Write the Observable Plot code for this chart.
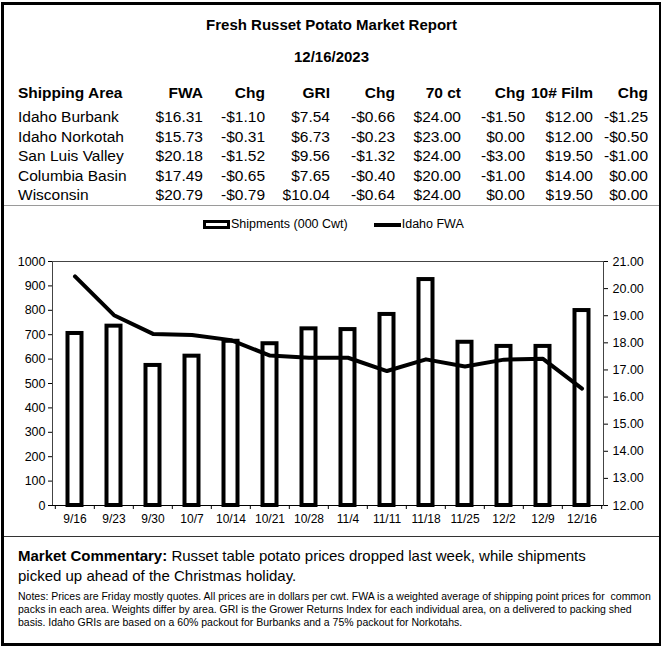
<!DOCTYPE html>
<html><head><meta charset="utf-8">
<script src="https://cdn.jsdelivr.net/npm/d3@7"></script>
<script src="https://cdn.jsdelivr.net/npm/@observablehq/plot@0.6"></script>
<style>
html,body{margin:0;padding:0;background:#fff;}
body{width:663px;height:648px;position:relative;overflow:hidden;font-family:"Liberation Sans",Arial,sans-serif;color:#000;}
.abs{position:absolute;white-space:nowrap;}
</style></head><body>
<div id="root"></div>
<script>
// ---- data ----
const title = "Fresh Russet Potato Market Report";
const reportDate = "12/16/2023";
const tableHeaders = ["Shipping Area","FWA","Chg","GRI","Chg","70 ct","Chg","10# Film","Chg"];
const areas = ["Idaho Burbank","Idaho Norkotah","San Luis Valley","Columbia Basin","Wisconsin"];
const fwa = ["$16.31","$15.73","$20.18","$17.49","$20.79"];
const fwaChg = ["-$1.10","-$0.31","-$1.52","-$0.65","-$0.79"];
const gri = ["$7.54","$6.73","$9.56","$7.65","$10.04"];
const griChg = ["-$0.66","-$0.23","-$1.32","-$0.40","-$0.64"];
const ct70 = ["$24.00","$23.00","$24.00","$20.00","$24.00"];
const ct70Chg = ["-$1.50","$0.00","-$3.00","-$1.00","$0.00"];
const film10 = ["$12.00","$12.00","$19.50","$14.00","$19.50"];
const film10Chg = ["-$1.25","-$0.50","-$1.00","$0.00","$0.00"];

const weeks = ["9/16","9/23","9/30","10/7","10/14","10/21","10/28","11/4","11/11","11/18","11/25","12/2","12/9","12/16"];
const shipments = [705,735,574,612,673,663,724,721,783,926,669,652,652,799];
const idahoFWA = [20.45,19.02,18.33,18.29,18.10,17.53,17.45,17.45,16.96,17.39,17.13,17.38,17.41,16.31];
const leftTicks = [0,100,200,300,400,500,600,700,800,900,1000];
const rightTicks = [12,13,14,15,16,17,18,19,20,21];
const seriesNames = ["Shipments (000 Cwt)","Idaho FWA"];

const commentaryLabel = "Market Commentary:";
const commentaryLines = [" Russet table potato prices dropped last week, while shipments","picked up ahead of the Christmas holiday."];
const notesLines = [
 "Notes: Prices are Friday mostly quotes. All prices are in dollars per cwt. FWA is a weighted average of shipping point prices for&nbsp; common",
 "packs in each area. Weights differ by area. GRI is the Grower Returns Index for each individual area, on a delivered to packing shed",
 "basis. Idaho GRIs are based on a 60% packout for Burbanks and a 75% packout for Norkotahs."
];

// ---- layout helpers ----
const root = document.getElementById("root");
function box(html, css){const d=document.createElement("div");d.className="abs";d.innerHTML=html;Object.assign(d.style,css);root.appendChild(d);return d;}

// outer frame
box("",{left:"1px",top:"2px",width:"655px",height:"638px",borderLeft:"3px solid #000",borderTop:"3px solid #000",borderRight:"2px solid #000",borderBottom:"3px solid #000"});
// separators
box("",{left:"4px",top:"205px",width:"655px",height:"1px",background:"#9a9a9a"});
box("",{left:"4px",top:"536px",width:"655px",height:"1px",background:"#333"});

// title
box(title,{left:"0",width:"663px",textAlign:"center",top:"15px",lineHeight:"20px",fontSize:"15px",fontWeight:"bold"});
box(reportDate,{left:"0",width:"663px",textAlign:"center",top:"47px",lineHeight:"20px",fontSize:"15px",fontWeight:"bold"});

// table
const colRight = [null,203,265,330,395,461,525,593,648];
const cols = [areas,fwa,fwaChg,gri,griChg,ct70,ct70Chg,film10,film10Chg];
const rowY = [117,136.5,156,175.5,195];
tableHeaders.forEach((h,j)=>{
  const css={top:(93-10)+"px",lineHeight:"20px",fontSize:"15.5px",fontWeight:"bold"};
  if(j===0){css.left="18px";} else {css.right=(663-colRight[j])+"px";css.textAlign="right";}
  box(h,css);
});
cols.forEach((col,j)=>{
  col.forEach((v,i)=>{
    const css={top:(rowY[i]-10)+"px",lineHeight:"20px",fontSize:"15.5px"};
    if(j===0){css.left="18px";} else {css.right=(663-colRight[j])+"px";css.textAlign="right";}
    box(v,css);
  });
});

// legend
box(`<span style="display:inline-block;width:21px;height:3px;border:3px solid #000;background:#fff;vertical-align:middle;margin-right:1px"></span>${seriesNames[0]}<span style="display:inline-block;width:27px;height:4px;background:#000;vertical-align:middle;margin-left:26px;margin-right:1px"></span>${seriesNames[1]}`,
  {left:"203px",top:"215px",lineHeight:"18px",fontSize:"12.5px"});

// commentary
box(`<b>${commentaryLabel}</b>${commentaryLines[0]}`,{left:"18px",top:"546px",lineHeight:"20px",fontSize:"15px"});
box(commentaryLines[1],{left:"18px",top:"566px",lineHeight:"20px",fontSize:"15px"});
notesLines.forEach((t,i)=>box(t,{left:"18px",top:(590+i*13)+"px",lineHeight:"13px",fontSize:"10.5px"}));

// ---- chart ----
const data = weeks.map((w,i)=>({week:w, ship:shipments[i], fwa:idahoFWA[i]}));
const toLeft = v => (v-12)/9*1000;
const fromLeft = y => y/1000*9+12;
const W=663, ML=52, MR=60, MT=21, MB=35, H=300;
const step = (W-ML-MR)/weeks.length;

const chart = Plot.plot({
  width: W, height: H,
  marginLeft: ML, marginRight: MR, marginTop: MT, marginBottom: MB,
  style:{fontFamily:"'Liberation Sans', Arial, sans-serif", fontSize:"12px", color:"#000", background:"transparent"},
  x:{type:"band", domain: weeks, padding:0, axis:null, label:null},
  y:{domain:[0,1000], axis:null, label:null},
  marks:[
    Plot.frame({stroke:"#444", strokeWidth:1}),
    Plot.barY(data,{x:"week", y:"ship", fill:"#fff", stroke:"#000", strokeWidth:4, insetLeft:12.5, insetRight:12.5}),
    Plot.lineY(data,{x:"week", y:d=>toLeft(d.fwa), stroke:"#000", strokeWidth:4}),
    Plot.ruleY([0],{stroke:"#000", strokeWidth:1}),
    Plot.ruleX(weeks,{x:d=>d, dx:-step/2, y1:d=>0, y2:d=>0, insetBottom:-4, stroke:"#000"}),
    Plot.ruleX([weeks[weeks.length-1]],{x:d=>d, dx:step/2, y1:d=>0, y2:d=>0, insetBottom:-4, stroke:"#000"}),
    Plot.axisX({ticks: weeks, tickSize:0, tickPadding:9, fontSize:12, label:null}),
    Plot.axisY({anchor:"left", ticks:leftTicks, tickSize:4, tickPadding:3, tickFormat:d=>String(d), fontSize:12.5, label:null}),
    Plot.axisY({anchor:"right", ticks:rightTicks.map(toLeft), tickSize:4, tickPadding:5, tickFormat:d=>fromLeft(d).toFixed(2), fontSize:12.5, label:null})
  ]
});
chart.style.position="absolute";
chart.style.left="0px";
chart.style.top="240px";
root.appendChild(chart);
</script>
</body></html>
